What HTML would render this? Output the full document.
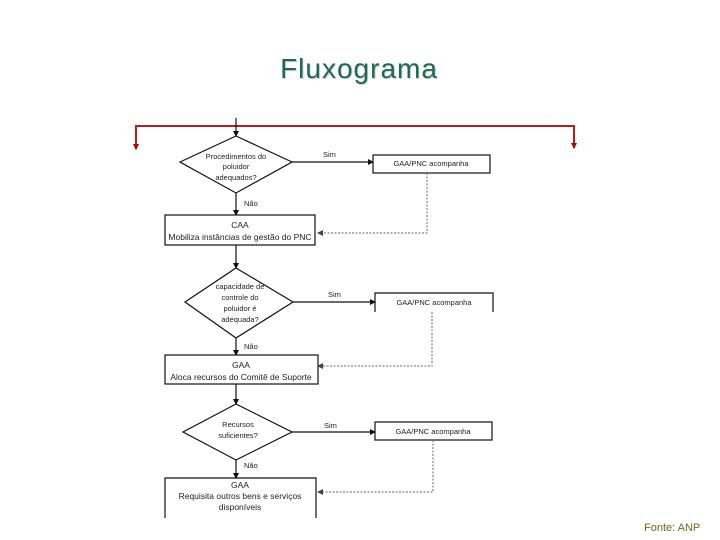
<!DOCTYPE html>
<html><head><meta charset="utf-8"><style>
html,body{margin:0;padding:0;background:#fff;width:720px;height:540px;overflow:hidden}
svg{display:block}
.t{font-family:"Liberation Sans",sans-serif;font-size:7.5px;fill:#222}
.b{font-family:"Liberation Sans",sans-serif;font-size:8.5px;fill:#222}
</style></head><body>
<svg width="720" height="540" viewBox="0 0 720 540" xmlns="http://www.w3.org/2000/svg">
<defs>
<marker id="a" markerWidth="6" markerHeight="6" refX="5" refY="3" orient="auto" markerUnits="userSpaceOnUse"><path d="M0,0 L6,3 L0,6 z" fill="#111"/></marker>
<marker id="r" markerWidth="6" markerHeight="6" refX="5" refY="3" orient="auto" markerUnits="userSpaceOnUse"><path d="M0,0 L6,3 L0,6 z" fill="#c00000"/></marker>
<marker id="g" markerWidth="6" markerHeight="6" refX="5" refY="3" orient="auto" markerUnits="userSpaceOnUse"><path d="M0,0 L6,3 L0,6 z" fill="#444"/></marker>
</defs>
<text x="360" y="79" text-anchor="middle" font-family="Liberation Sans, sans-serif" font-size="28" letter-spacing="1" fill="#cfcfcf">Fluxograma</text>
<text x="359" y="78" text-anchor="middle" font-family="Liberation Sans, sans-serif" font-size="28" letter-spacing="1" fill="#1b6b50">Fluxograma</text>
<polyline points="136,148 136,126 574,126 574,148" fill="none" stroke="#b81c1c" stroke-width="2" marker-end="url(#r)"/>
<line x1="136" y1="130" x2="136" y2="149" stroke="#b81c1c" stroke-width="2" marker-end="url(#r)"/>
<g stroke="#111" stroke-width="1.2" fill="none">
<line x1="236" y1="118" x2="236" y2="136" marker-end="url(#a)"/>
<polygon points="236,136 292,162 236,193 180,162" fill="#fff"/>
<line x1="292" y1="162" x2="373" y2="162" marker-end="url(#a)"/>
<rect x="373" y="155" width="117" height="18" fill="#fff"/>
<line x1="236" y1="193" x2="236" y2="215" marker-end="url(#a)"/>
<rect x="165" y="215" width="150" height="30" fill="#fff"/>
<line x1="236" y1="245" x2="236" y2="268" marker-end="url(#a)"/>
<polygon points="236,268 293,302 236,338 185,302" fill="#fff"/>
<line x1="293" y1="302" x2="375" y2="302" marker-end="url(#a)"/>
<polyline points="375,312 375,293 493,293 493,312"/>
<line x1="236" y1="338" x2="236" y2="355" marker-end="url(#a)"/>
<rect x="165" y="355" width="153" height="29" fill="#fff"/>
<line x1="236" y1="384" x2="236" y2="404" marker-end="url(#a)"/>
<polygon points="236,404 292,432 236,460 183,432" fill="#fff"/>
<line x1="292" y1="432" x2="375" y2="432" marker-end="url(#a)"/>
<rect x="375" y="422" width="117" height="18" fill="#fff"/>
<line x1="236" y1="460" x2="236" y2="478" marker-end="url(#a)"/>
<polyline points="165,518 165,478 316,478 316,518"/>
</g>
<g stroke="#666" stroke-width="1" fill="none" stroke-dasharray="2,1.5">
<polyline points="427,173 427,233 318,233" marker-end="url(#g)"/>
<polyline points="432,312 432,366 318,366" marker-end="url(#g)"/>
<polyline points="433,440 433,492 318,492" marker-end="url(#g)"/>
</g>
<g class="t" text-anchor="middle">
<text x="236" y="159">Procedimentos do</text>
<text x="236" y="169">poluidor</text>
<text x="236" y="180">adequados?</text>
<text x="240" y="289">capacidade de</text>
<text x="240" y="300">controle do</text>
<text x="240" y="311">poluidor é</text>
<text x="240" y="322">adequada?</text>
<text x="238" y="427">Recursos</text>
<text x="238" y="438">suficientes?</text>
<text x="431" y="166">GAA/PNC acompanha</text>
<text x="434" y="305">GAA/PNC acompanha</text>
<text x="433" y="434">GAA/PNC acompanha</text>
</g>
<g class="t">
<text x="323" y="157">Sim</text><text x="328" y="297">Sim</text><text x="324" y="428">Sim</text>
<text x="244" y="206">Não</text><text x="244" y="349">Não</text><text x="244" y="468">Não</text>
</g>
<g class="b" text-anchor="middle">
<text x="240" y="228">CAA</text>
<text x="240" y="240">Mobiliza instâncias de gestão do PNC</text>
<text x="241" y="368">GAA</text>
<text x="241" y="380">Aloca recursos do Comitê de Suporte</text>
<text x="240" y="488">GAA</text>
<text x="240" y="499">Requisita outros bens e serviços</text>
<text x="240" y="510">disponíveis</text>
</g>
<text x="644" y="531" font-family="Liberation Sans, sans-serif" font-size="11" fill="#6b6b1a">Fonte: ANP</text>
</svg>
</body></html>
